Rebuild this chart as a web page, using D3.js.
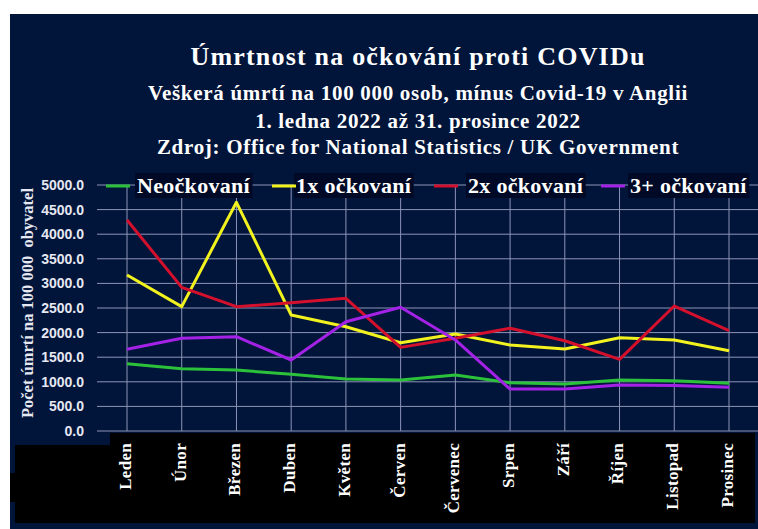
<!DOCTYPE html>
<html>
<head>
<meta charset="utf-8">
<script src="https://cdn.jsdelivr.net/npm/d3@7/dist/d3.min.js"></script>
<style>
	body { margin: 0; background: #ffffff; }
	svg { display: block; }
</style>
</head>
<body>
<svg id="chart" width="758" height="529"></svg>
<script>
// data
const months = ['Leden', 'Únor', 'Březen', 'Duben', 'Květen', 'Červen', 'Červenec', 'Srpen', 'Září', 'Říjen', 'Listopad', 'Prosinec'];
const neockovani = [1368, 1266, 1240, 1152, 1057, 1037, 1138, 982, 955, 1037, 1023, 969];
const ockovani1x = [3171, 2527, 4648, 2358, 2120, 1795, 1971, 1748, 1667, 1897, 1850, 1633];
const ockovani2x = [4289, 2920, 2527, 2608, 2697, 1700, 1884, 2087, 1835, 1457, 2540, 2039];
const ockovani3x = [1660, 1884, 1917, 1443, 2222, 2514, 1850, 853, 853, 935, 925, 888];
const seriesNames = ['Neočkovaní', '1x očkovaní', '2x očkovaní', '3+ očkovaní'];
const yTicks = [0, 500, 1000, 1500, 2000, 2500, 3000, 3500, 4000, 4500, 5000];

const titleLines = [
	'Úmrtnost na očkování proti COVIDu',
	'Veškerá úmrtí na 100 000 osob, mínus Covid-19 v Anglii',
	'1. ledna 2022 až 31. prosince 2022',
	'Zdroj: Office for National Statistics / UK Government'
];

const colors = ['#2cc13a', '#f2f21e', '#d4102c', '#a322e6'];
const serif = '"Liberation Serif", "Times New Roman", serif';
const sans = '"Liberation Sans", Arial, sans-serif';

const svg = d3.select('#chart');

const x = d3.scalePoint().domain(months).range([127, 729]);
const y = d3.scaleLinear().domain([0, 5000]).range([431, 185]);

// background panel
svg.append('rect')
	.attr('x', 10).attr('y', 14)
	.attr('width', 748).attr('height', 515)
	.style('fill', '#01143a');

// black block under axis
svg.append('rect')
	.attr('x', 110).attr('y', 433)
	.attr('width', 645).attr('height', 14)
	.style('fill', '#000000');
svg.append('rect')
	.attr('x', 15).attr('y', 445)
	.attr('width', 740).attr('height', 78)
	.style('fill', '#000000');
svg.append('rect')
	.attr('x', 10).attr('y', 473)
	.attr('width', 8).attr('height', 29)
	.style('fill', '#000000');

// titles
const titleY = [65, 100, 128, 154];
const titleSize = [26, 21, 21, 21];
const titleSpacing = [1.2, 0.7, 0.7, 0.7];
titleLines.forEach(function(t, i) {
	svg.append('text')
		.attr('x', 418)
		.attr('y', titleY[i])
		.attr('text-anchor', 'middle')
		.style('font-family', serif)
		.style('font-weight', 'bold')
		.style('font-size', titleSize[i] + 'px')
		.style('letter-spacing', titleSpacing[i] + 'px')
		.style('fill', '#ffffff')
		.text(t);
});

// horizontal grid
svg.append('g')
	.selectAll('line')
	.data(yTicks)
	.join('line')
	.attr('x1', 97).attr('x2', 758)
	.attr('y1', d => y(d)).attr('y2', d => y(d))
	.style('stroke', '#8d95b8')
	.style('stroke-width', 1);

// vertical grid
svg.append('g')
	.selectAll('line')
	.data(months)
	.join('line')
	.attr('x1', d => x(d)).attr('x2', d => x(d))
	.attr('y1', y(5000)).attr('y2', y(0))
	.style('stroke', '#8d95b8')
	.style('stroke-width', 1);

// y axis labels
const yAxis = svg.append('g')
	.attr('transform', 'translate(90,0)')
	.call(d3.axisLeft(y).tickValues(yTicks).tickFormat(d3.format('.1f')).tickSize(0).tickPadding(6));
yAxis.select('.domain').remove();
yAxis.selectAll('text')
	.style('font-family', sans)
	.style('font-weight', 'bold')
	.style('font-size', '14px')
	.style('fill', '#e6e8f2');

svg.append('text')
	.attr('transform', 'translate(33,303) rotate(-90)')
	.attr('text-anchor', 'middle')
	.style('font-family', serif)
	.style('font-weight', 'bold')
	.style('font-size', '16.5px')
	.style('fill', '#e6e8f2')
	.style('white-space', 'pre')
	.text('Počet úmrtí na 100 000  obyvatel');

// x axis labels (rotated)
svg.append('g')
	.selectAll('text')
	.data(months)
	.join('text')
	.attr('transform', d => 'translate(' + (x(d) - 2) + ',443) rotate(-90)')
	.attr('text-anchor', 'end')
	.attr('dy', '0.35em')
	.style('font-family', serif)
	.style('font-weight', 'bold')
	.style('font-size', '17px')
	.style('letter-spacing', '0.3px')
	.style('fill', '#ffffff')
	.text(d => d);

// series lines
const allSeries = [neockovani, ockovani1x, ockovani2x, ockovani3x];
const line = d3.line()
	.x((d, i) => x(months[i]))
	.y(d => y(d));

svg.append('g')
	.selectAll('path')
	.data(allSeries)
	.join('path')
	.attr('d', line)
	.style('fill', 'none')
	.style('stroke', (d, i) => colors[i])
	.style('stroke-width', 3)
	.style('stroke-linejoin', 'round');

// legend
const legendLineX = [106, 272, 434, 601];
const legendTextX = [137, 296, 468, 630];
const legendY = 186;
const legend = svg.append('g');
seriesNames.forEach(function(n, i) {
	const t = legend.append('text')
		.attr('x', legendTextX[i])
		.attr('y', legendY + 7)
		.style('font-family', serif)
		.style('font-weight', 'bold')
		.style('font-size', '22px')
		.style('letter-spacing', '0.3px')
		.style('fill', '#ffffff')
		.text(n);
	const bb = t.node().getBBox();
	legend.insert('rect', 'text')
		.attr('x', bb.x - 2).attr('y', bb.y)
		.attr('width', bb.width + 4).attr('height', bb.height)
		.style('fill', '#000a26');
	legend.append('line')
		.attr('x1', legendLineX[i]).attr('x2', legendLineX[i] + 24)
		.attr('y1', legendY).attr('y2', legendY)
		.style('stroke', colors[i])
		.style('stroke-width', 3);
});
</script>
</body>
</html>
